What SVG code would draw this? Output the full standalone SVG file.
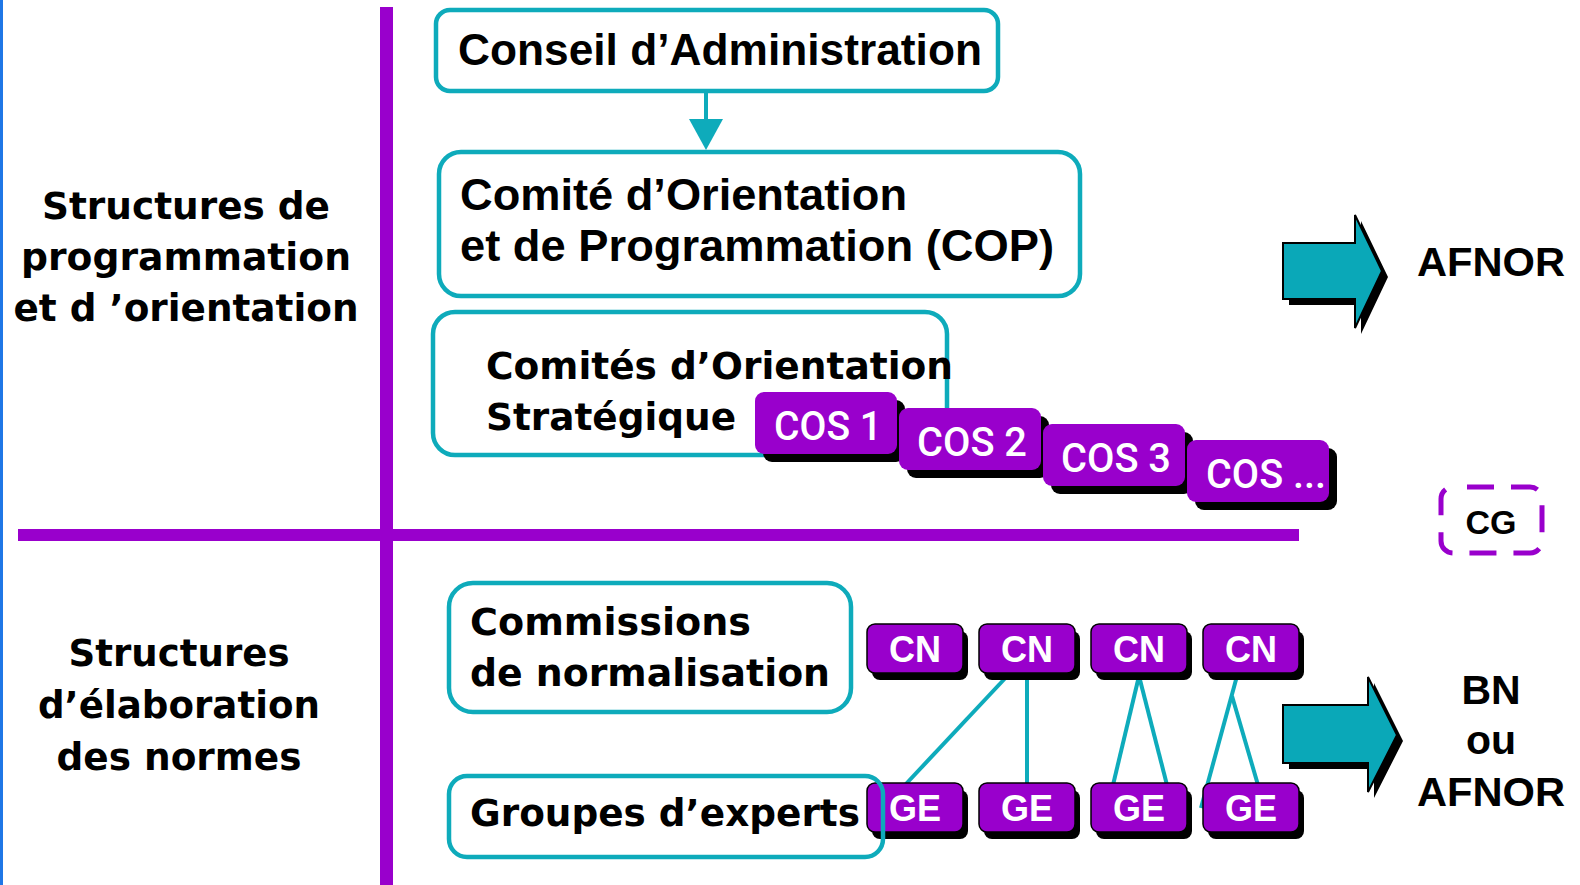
<svg xmlns="http://www.w3.org/2000/svg" width="1580" height="885" viewBox="0 0 1580 885">
  <style>
    .box { fill: #ffffff; stroke: #0eabbb; stroke-width: 4.5; }
    .boxn { fill: none; stroke: #0eabbb; stroke-width: 4.5; }
    .wide { font-family: "DejaVu Sans", "Verdana", sans-serif; font-weight: bold; fill: #000; }
    .cond { font-family: "Liberation Sans Narrow", "Liberation Sans", Arial, sans-serif; font-weight: bold; fill: #000; }
    .arial { font-family: "Liberation Sans", Arial, sans-serif; font-weight: bold; fill: #000; }
    .cos { fill: #9900cc; }
    .cosshadow { fill: #000; }
    .costxt { font-family: Roboto, "Liberation Sans", sans-serif; font-weight: 500; font-size: 40px; fill: #fff; text-anchor: middle; }
    .tag { fill: #9900cc; stroke: #000; stroke-width: 1.5; }
    .tagshadow { fill: #000; }
    .tagtxt { font-family: "Liberation Sans", Arial, sans-serif; font-weight: bold; font-size: 36px; fill: #fff; text-anchor: middle; }
    .link { stroke: #0eabbb; stroke-width: 4; fill: none; }
    .divider { fill: #9900cc; }
    .barrow { fill: #0aa8b8; stroke: #000; stroke-width: 2; stroke-linejoin: miter; }
  </style>

  <rect x="0" y="0" width="1580" height="885" fill="#ffffff"/>

  <!-- dividers -->
  <g id="dividers">
    <line x1="1.5" y1="0" x2="1.5" y2="885" stroke="#1f77e6" stroke-width="3"/>
    <rect class="divider" x="380" y="7" width="13" height="878"/>
    <rect class="divider" x="18" y="529" width="1281" height="12"/>
  </g>

  <!-- side labels -->
  <g id="label-programmation" class="wide" font-size="37" text-anchor="middle">
    <text x="186" y="219" textLength="288" lengthAdjust="spacingAndGlyphs">Structures de</text>
    <text x="186" y="270" textLength="330" lengthAdjust="spacingAndGlyphs">programmation</text>
    <text x="186" y="321" textLength="345" lengthAdjust="spacingAndGlyphs">et d ’orientation</text>
  </g>
  <g id="label-elaboration" class="wide" font-size="37" text-anchor="middle">
    <text x="179" y="666" textLength="221" lengthAdjust="spacingAndGlyphs">Structures</text>
    <text x="179" y="718" textLength="282" lengthAdjust="spacingAndGlyphs">d’élaboration</text>
    <text x="179" y="770" textLength="245" lengthAdjust="spacingAndGlyphs">des normes</text>
  </g>

  <!-- connectors -->
  <g id="connectors">
    <line class="link" x1="706" y1="91" x2="706" y2="122" stroke-width="6.5"/>
    <polygon points="689,119 723,119 706,150" fill="#0eabbb"/>
    <line class="link" x1="1011" y1="672" x2="905" y2="785"/>
    <line class="link" x1="1027" y1="672" x2="1027" y2="785"/>
    <line class="link" x1="1139" y1="676" x2="1113" y2="785"/>
    <line class="link" x1="1139" y1="676" x2="1167" y2="785"/>
    <line class="link" x1="1237" y1="676" x2="1201" y2="808"/>
    <line class="link" x1="1232" y1="696" x2="1258" y2="785"/>
  </g>

  <!-- Conseil d'Administration -->
  <g id="n-conseil">
    <rect class="box" x="436" y="10" width="562" height="81" rx="14"/>
    <text class="cond" x="458" y="65" font-size="44" textLength="524" lengthAdjust="spacingAndGlyphs">Conseil d’Administration</text>
  </g>

  <!-- COP -->
  <g id="n-cop">
    <rect class="box" x="439" y="152" width="641" height="144" rx="22"/>
    <text class="cond" x="460" y="210" font-size="44" textLength="447" lengthAdjust="spacingAndGlyphs">Comité d’Orientation</text>
    <text class="cond" x="460" y="261" font-size="44" textLength="594" lengthAdjust="spacingAndGlyphs">et de Programmation (COP)</text>
  </g>

  <!-- Comités d'Orientation Stratégique -->
  <g id="n-cos">
    <rect class="box" x="433" y="312" width="514" height="143" rx="22"/>
    <text class="wide" x="486" y="379" font-size="37" textLength="467" lengthAdjust="spacingAndGlyphs">Comités d’Orientation</text>
    <text class="wide" x="486" y="430" font-size="37" textLength="250" lengthAdjust="spacingAndGlyphs">Stratégique</text>
  </g>

  <g id="n-cos1">
    <rect class="cosshadow" x="763" y="400" width="142" height="62" rx="9"/>
    <rect class="cos" x="755" y="392" width="142" height="62" rx="9"/>
    <text class="costxt" x="828" y="440" textLength="108" lengthAdjust="spacingAndGlyphs">COS 1</text>
  </g>
  <g id="n-cos2">
    <rect class="cosshadow" x="907" y="416" width="142" height="62" rx="9"/>
    <rect class="cos" x="899" y="408" width="142" height="62" rx="9"/>
    <text class="costxt" x="972" y="456" textLength="110" lengthAdjust="spacingAndGlyphs">COS 2</text>
  </g>
  <g id="n-cos3">
    <rect class="cosshadow" x="1051" y="432" width="142" height="62" rx="9"/>
    <rect class="cos" x="1043" y="424" width="142" height="62" rx="9"/>
    <text class="costxt" x="1116" y="472" textLength="110" lengthAdjust="spacingAndGlyphs">COS 3</text>
  </g>
  <g id="n-cos4">
    <rect class="cosshadow" x="1195" y="448" width="142" height="62" rx="9"/>
    <rect class="cos" x="1187" y="440" width="142" height="62" rx="9"/>
    <text class="costxt" x="1266" y="488" textLength="120" lengthAdjust="spacingAndGlyphs">COS ...</text>
  </g>

  <!-- Commissions de normalisation -->
  <g id="n-commissions">
    <rect class="box" x="449" y="583" width="402" height="129" rx="24"/>
    <text class="wide" x="470" y="635" font-size="37" textLength="281" lengthAdjust="spacingAndGlyphs">Commissions</text>
    <text class="wide" x="470" y="686" font-size="37" textLength="360" lengthAdjust="spacingAndGlyphs">de normalisation</text>
  </g>

  <!-- CN tags -->
  <g id="n-cn1">
    <rect class="tagshadow" x="872" y="631" width="96" height="49" rx="8"/>
    <rect class="tag" x="867" y="624" width="96" height="49" rx="8"/>
    <text class="tagtxt" x="915" y="662">CN</text>
  </g>
  <g id="n-cn2">
    <rect class="tagshadow" x="984" y="631" width="96" height="49" rx="8"/>
    <rect class="tag" x="979" y="624" width="96" height="49" rx="8"/>
    <text class="tagtxt" x="1027" y="662">CN</text>
  </g>
  <g id="n-cn3">
    <rect class="tagshadow" x="1096" y="631" width="96" height="49" rx="8"/>
    <rect class="tag" x="1091" y="624" width="96" height="49" rx="8"/>
    <text class="tagtxt" x="1139" y="662">CN</text>
  </g>
  <g id="n-cn4">
    <rect class="tagshadow" x="1208" y="631" width="96" height="49" rx="8"/>
    <rect class="tag" x="1203" y="624" width="96" height="49" rx="8"/>
    <text class="tagtxt" x="1251" y="662">CN</text>
  </g>

  <!-- GE tags -->
  <g id="n-ge1">
    <rect class="tagshadow" x="872" y="790" width="96" height="49" rx="8"/>
    <rect class="tag" x="867" y="783" width="96" height="49" rx="8"/>
    <text class="tagtxt" x="915" y="821">GE</text>
  </g>
  <g id="n-ge2">
    <rect class="tagshadow" x="984" y="790" width="96" height="49" rx="8"/>
    <rect class="tag" x="979" y="783" width="96" height="49" rx="8"/>
    <text class="tagtxt" x="1027" y="821">GE</text>
  </g>
  <g id="n-ge3">
    <rect class="tagshadow" x="1096" y="790" width="96" height="49" rx="8"/>
    <rect class="tag" x="1091" y="783" width="96" height="49" rx="8"/>
    <text class="tagtxt" x="1139" y="821">GE</text>
  </g>
  <g id="n-ge4">
    <rect class="tagshadow" x="1208" y="790" width="96" height="49" rx="8"/>
    <rect class="tag" x="1203" y="783" width="96" height="49" rx="8"/>
    <text class="tagtxt" x="1251" y="821">GE</text>
  </g>

  <!-- Groupes d'experts -->
  <g id="n-groupes">
    <rect class="boxn" x="449" y="776" width="434" height="81" rx="18"/>
    <text class="wide" x="470" y="826" font-size="37" textLength="390" lengthAdjust="spacingAndGlyphs">Groupes d’experts</text>
  </g>

  <!-- output arrows -->
  <g id="n-arrow-afnor">
    <polygon points="1289,249 1361,249 1361,221 1388,277 1361,334 1361,305 1289,305" fill="#000"/>
    <polygon class="barrow" points="1283,243 1355,243 1355,215 1382,271 1355,328 1355,299 1283,299"/>
  </g>
  <g id="n-afnor">
    <text class="arial" x="1491" y="276" font-size="41" text-anchor="middle" textLength="148" lengthAdjust="spacingAndGlyphs">AFNOR</text>
  </g>

  <g id="n-arrow-bn">
    <polygon points="1289,711 1374,711 1374,683 1403,741 1374,798 1374,769 1289,769" fill="#000"/>
    <polygon class="barrow" points="1283,705 1368,705 1368,677 1397,735 1368,792 1368,763 1283,763"/>
  </g>
  <g id="n-bn">
    <text class="arial" x="1491" y="704" font-size="41" text-anchor="middle">BN</text>
    <text class="arial" x="1491" y="754" font-size="41" text-anchor="middle">ou</text>
    <text class="arial" x="1491" y="806" font-size="41" text-anchor="middle" textLength="148" lengthAdjust="spacingAndGlyphs">AFNOR</text>
  </g>

  <!-- CG -->
  <g id="n-cg">
    <rect x="1441" y="487" width="101" height="66" rx="12" fill="none" stroke="#9900cc" stroke-width="5" stroke-dasharray="27 17" stroke-dashoffset="-14"/>
    <text class="arial" x="1491" y="534" font-size="34" text-anchor="middle">CG</text>
  </g>
</svg>
